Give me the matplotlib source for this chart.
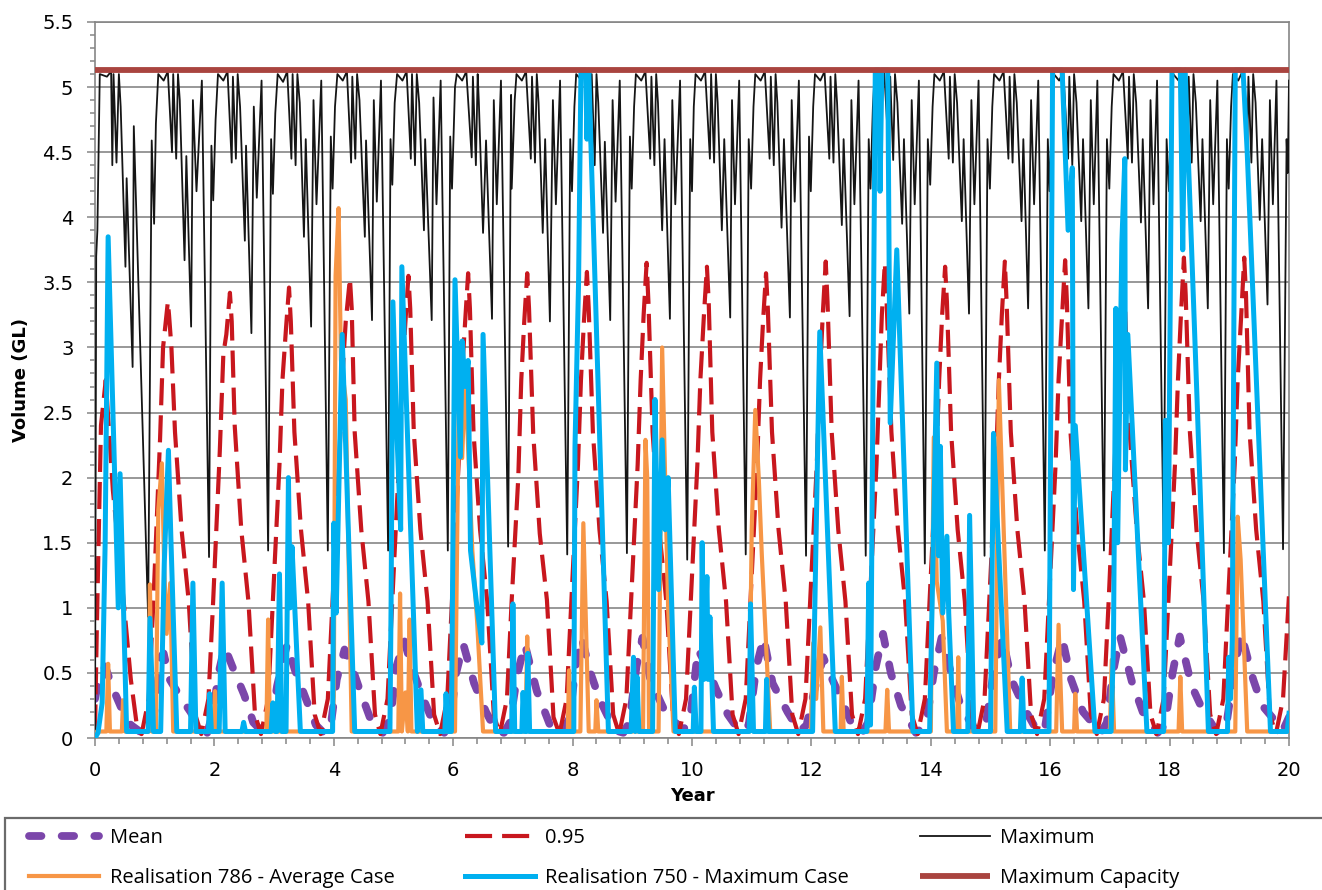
import matplotlib
matplotlib.use("Agg")
import matplotlib.pyplot as plt
from matplotlib.patches import Rectangle
from matplotlib.ticker import MultipleLocator

# ---- data (year, volume GL) ----
mean_pts = [
    (0.0, 0.3), (0.05, 0.42), (0.17, 0.55), (0.3, 0.38), (0.45, 0.22), (0.6, 0.1), (0.75, 0.05), (0.88, 0.04),
    (0.95, 0.05), (1.02, 0.3), (1.1, 0.62), (1.15, 0.65), (1.25, 0.45), (1.45, 0.3), (1.6, 0.2), (1.75, 0.08), (1.88, 0.04),
    (1.98, 0.2), (2.07, 0.5), (2.17, 0.7), (2.3, 0.55), (2.5, 0.33), (2.65, 0.12), (2.82, 0.04),
    (2.95, 0.1), (3.05, 0.4), (3.15, 0.6), (3.22, 0.72), (3.35, 0.52), (3.55, 0.28), (3.7, 0.1), (3.85, 0.03),
    (3.95, 0.1), (4.05, 0.45), (4.18, 0.68), (4.3, 0.55), (4.45, 0.35), (4.65, 0.1), (4.82, 0.04),
    (4.95, 0.15), (5.05, 0.55), (5.18, 0.75), (5.3, 0.55), (5.5, 0.3), (5.7, 0.08), (5.85, 0.04),
    (5.95, 0.12), (6.05, 0.5), (6.17, 0.72), (6.35, 0.42), (6.55, 0.2), (6.72, 0.05), (6.85, 0.04),
    (6.95, 0.12), (7.08, 0.5), (7.2, 0.72), (7.4, 0.36), (7.62, 0.1), (7.8, 0.04),
    (7.95, 0.15), (8.05, 0.55), (8.15, 0.77), (8.3, 0.5), (8.45, 0.3), (8.7, 0.06), (8.85, 0.04),
    (8.95, 0.12), (9.07, 0.55), (9.17, 0.77), (9.3, 0.45), (9.55, 0.2), (9.85, 0.06),
    (9.97, 0.15), (10.1, 0.68), (10.25, 0.55), (10.4, 0.38), (10.6, 0.18), (10.8, 0.05),
    (10.95, 0.1), (11.08, 0.55), (11.2, 0.77), (11.35, 0.42), (11.6, 0.2), (11.8, 0.05),
    (11.92, 0.1), (12.05, 0.37), (12.2, 0.62), (12.3, 0.5), (12.45, 0.35), (12.7, 0.08), (12.85, 0.04),
    (12.95, 0.12), (13.08, 0.55), (13.2, 0.8), (13.33, 0.5), (13.5, 0.25), (13.75, 0.04),
    (13.92, 0.1), (14.05, 0.5), (14.18, 0.77), (14.35, 0.48), (14.5, 0.25), (14.75, 0.05),
    (14.92, 0.1), (15.05, 0.5), (15.2, 0.77), (15.35, 0.45), (15.6, 0.2), (15.8, 0.04),
    (15.92, 0.1), (16.05, 0.5), (16.2, 0.77), (16.35, 0.45), (16.55, 0.2), (16.85, 0.04),
    (16.95, 0.12), (17.05, 0.5), (17.17, 0.78), (17.37, 0.43), (17.55, 0.2), (17.8, 0.04),
    (17.92, 0.1), (18.05, 0.5), (18.17, 0.78), (18.37, 0.4), (18.55, 0.22), (18.8, 0.04),
    (18.95, 0.1), (19.02, 0.32), (19.1, 0.57), (19.2, 0.8), (19.4, 0.45), (19.55, 0.25), (19.9, 0.06), (20.0, 0.16),
]

p95_pts = [
    (0.0, 0.05), (0.03, 0.83), (0.1, 2.4), (0.18, 2.75), (0.3, 1.9), (0.45, 1.2), (0.6, 0.45), (0.7, 0.1),
    (0.78, 0.03), (0.9, 0.3), (0.98, 1.06), (1.09, 2.3), (1.14, 3.0), (1.22, 3.35), (1.24, 3.25), (1.28, 3.0), (1.34, 2.35), (1.45, 1.6), (1.57, 1.05), (1.68, 0.18),
    (1.78, 0.03), (1.9, 0.3), (1.98, 1.06), (2.09, 2.2), (2.15, 2.95), (2.2, 3.1), (2.26, 3.42), (2.29, 3.2), (2.34, 2.4), (2.45, 1.6), (2.57, 1.05), (2.68, 0.18),
    (2.78, 0.03), (2.9, 0.3), (2.98, 1.06), (3.09, 2.1), (3.14, 2.75), (3.2, 3.15), (3.25, 3.46), (3.28, 3.2), (3.34, 2.35), (3.45, 1.6), (3.57, 1.05), (3.68, 0.18),
    (3.78, 0.03), (3.9, 0.3), (3.98, 1.06), (4.09, 2.1), (4.14, 2.75), (4.2, 3.2), (4.27, 3.53), (4.3, 3.3), (4.35, 2.35), (4.46, 1.6), (4.58, 1.05), (4.69, 0.18),
    (4.78, 0.03), (4.9, 0.3), (4.98, 1.06), (5.09, 2.1), (5.14, 2.75), (5.2, 3.2), (5.25, 3.55), (5.28, 3.3), (5.34, 2.35), (5.45, 1.6), (5.57, 1.05), (5.68, 0.18),
    (5.78, 0.03), (5.9, 0.3), (5.98, 1.06), (6.09, 2.1), (6.14, 2.75), (6.2, 3.2), (6.25, 3.57), (6.28, 3.3), (6.34, 2.35), (6.45, 1.6), (6.57, 1.05), (6.68, 0.18),
    (6.78, 0.03), (6.9, 0.3), (6.98, 1.06), (7.09, 2.0), (7.14, 2.75), (7.19, 3.2), (7.24, 3.57), (7.27, 3.3), (7.34, 2.34), (7.45, 1.57), (7.57, 1.06), (7.68, 0.16),
    (7.78, 0.03), (7.9, 0.3), (7.98, 1.06), (8.09, 2.1), (8.14, 2.75), (8.19, 3.2), (8.24, 3.58), (8.27, 3.3), (8.34, 2.35), (8.45, 1.6), (8.57, 1.05), (8.68, 0.18),
    (8.78, 0.03), (8.9, 0.3), (8.98, 1.06), (9.09, 2.1), (9.14, 2.75), (9.19, 3.25), (9.24, 3.65), (9.27, 3.35), (9.34, 2.35), (9.45, 1.6), (9.57, 1.05), (9.68, 0.18),
    (9.78, 0.03), (9.9, 0.3), (9.98, 1.06), (10.09, 2.1), (10.14, 2.75), (10.2, 3.25), (10.25, 3.62), (10.28, 3.35), (10.34, 2.35), (10.45, 1.6), (10.57, 1.05), (10.68, 0.18),
    (10.78, 0.03), (10.9, 0.3), (10.98, 1.06), (11.09, 2.1), (11.14, 2.75), (11.19, 3.2), (11.24, 3.57), (11.27, 3.3), (11.34, 2.35), (11.45, 1.6), (11.57, 1.05), (11.68, 0.18),
    (11.78, 0.03), (11.9, 0.3), (11.98, 1.06), (12.09, 2.1), (12.14, 2.75), (12.19, 3.25), (12.24, 3.66), (12.27, 3.35), (12.34, 2.35), (12.45, 1.6), (12.57, 1.05), (12.68, 0.18),
    (12.78, 0.03), (12.9, 0.3), (12.98, 1.06), (13.09, 2.1), (13.14, 2.75), (13.18, 3.25), (13.23, 3.65), (13.26, 3.35), (13.34, 2.35), (13.45, 1.6), (13.57, 1.05), (13.68, 0.18),
    (13.78, 0.03), (13.9, 0.3), (13.98, 1.06), (14.09, 2.1), (14.14, 2.75), (14.19, 3.25), (14.24, 3.62), (14.27, 3.35), (14.34, 2.35), (14.45, 1.6), (14.57, 1.05), (14.68, 0.18),
    (14.78, 0.03), (14.9, 0.3), (14.98, 1.06), (15.09, 2.1), (15.14, 2.75), (15.19, 3.25), (15.24, 3.66), (15.27, 3.35), (15.34, 2.35), (15.45, 1.6), (15.57, 1.05), (15.68, 0.18),
    (15.78, 0.03), (15.9, 0.3), (15.98, 1.06), (16.09, 2.1), (16.14, 2.75), (16.2, 3.25), (16.25, 3.67), (16.28, 3.35), (16.34, 2.35), (16.45, 1.6), (16.57, 1.05), (16.68, 0.18),
    (16.78, 0.03), (16.9, 0.3), (16.98, 1.06), (17.08, 2.1), (17.13, 2.75), (17.18, 3.25), (17.22, 3.62), (17.25, 3.35), (17.33, 2.35), (17.45, 1.6), (17.57, 1.05), (17.68, 0.18),
    (17.78, 0.03), (17.9, 0.3), (17.98, 1.06), (18.09, 2.1), (18.14, 2.75), (18.19, 3.25), (18.24, 3.69), (18.27, 3.4), (18.34, 2.35), (18.45, 1.6), (18.57, 1.05), (18.68, 0.18),
    (18.78, 0.03), (18.9, 0.3), (18.98, 1.06), (19.09, 2.1), (19.14, 2.75), (19.2, 3.25), (19.25, 3.69), (19.28, 3.4), (19.34, 2.35), (19.45, 1.6), (19.57, 1.05), (19.68, 0.18),
    (19.78, 0.03), (19.9, 0.3), (20.0, 1.1),
]

max_pts = [
    (0.0, 0.0), (0.02, 3.7), (0.04, 3.9), (0.08, 5.1), (0.2, 5.08), (0.27, 5.12), (0.29, 4.4), (0.31, 5.1), (0.36, 4.42), (0.4, 5.1),
    (0.43, 4.85), (0.51, 3.62), (0.53, 4.3), (0.63, 2.85), (0.65, 4.7), (0.89, 0.93),
    (0.95, 4.59), (0.99, 3.95), (1.02, 4.72), (1.06, 5.1), (1.15, 5.05), (1.22, 5.12), (1.29, 4.5), (1.31, 5.1), (1.36, 4.45), (1.39, 5.1), (1.42, 4.9), (1.5, 3.67), (1.53, 4.47), (1.61, 3.16), (1.64, 4.9), (1.7, 4.2), (1.79, 5.05), (1.91, 1.39),
    (1.95, 4.55), (1.98, 4.13), (2.02, 4.75), (2.06, 5.1), (2.15, 5.05), (2.22, 5.12), (2.29, 4.42), (2.31, 5.08), (2.36, 4.45), (2.39, 5.1), (2.43, 4.85), (2.51, 3.82), (2.53, 4.55), (2.62, 3.11), (2.66, 4.85), (2.71, 4.15), (2.79, 5.05), (2.9, 1.44),
    (2.95, 4.6), (2.98, 4.18), (3.02, 4.8), (3.06, 5.1), (3.15, 5.04), (3.22, 5.12), (3.29, 4.45), (3.31, 5.1), (3.36, 4.4), (3.39, 5.1), (3.43, 4.88), (3.5, 3.85), (3.53, 4.6), (3.62, 3.16), (3.66, 4.9), (3.71, 4.1), (3.79, 5.05), (3.9, 1.44),
    (3.95, 4.62), (3.98, 4.22), (4.02, 4.85), (4.06, 5.1), (4.15, 5.05), (4.22, 5.12), (4.29, 4.42), (4.31, 5.08), (4.36, 4.45), (4.39, 5.1), (4.43, 4.9), (4.52, 3.85), (4.54, 4.59), (4.64, 3.21), (4.67, 4.9), (4.72, 4.12), (4.79, 5.05), (4.91, 1.44),
    (4.95, 4.6), (4.98, 4.25), (5.02, 4.88), (5.06, 5.1), (5.15, 5.05), (5.22, 5.12), (5.29, 4.45), (5.31, 5.1), (5.36, 4.4), (5.39, 5.1), (5.43, 4.88), (5.51, 3.9), (5.53, 4.6), (5.64, 3.21), (5.67, 4.92), (5.72, 4.1), (5.79, 5.05), (5.91, 1.44),
    (5.95, 4.62), (5.98, 4.22), (6.03, 5.0), (6.06, 5.1), (6.15, 5.05), (6.22, 5.12), (6.31, 4.46), (6.33, 5.08), (6.38, 4.4), (6.41, 5.1), (6.43, 4.88), (6.5, 3.88), (6.55, 4.59), (6.65, 3.22), (6.68, 4.9), (6.73, 4.1), (6.8, 5.05), (6.92, 1.47),
    (6.97, 4.94), (6.98, 4.22), (7.03, 4.9), (7.06, 5.1), (7.15, 5.05), (7.22, 5.12), (7.3, 4.45), (7.32, 5.08), (7.37, 4.42), (7.4, 5.1), (7.43, 4.88), (7.5, 3.88), (7.54, 4.6), (7.62, 3.2), (7.67, 4.9), (7.72, 4.1), (7.79, 5.05), (7.91, 1.41),
    (7.96, 4.6), (7.99, 4.2), (8.03, 4.85), (8.06, 5.1), (8.15, 5.05), (8.22, 5.12), (8.3, 4.48), (8.32, 5.1), (8.37, 4.4), (8.4, 5.1), (8.43, 4.88), (8.51, 3.88), (8.54, 4.58), (8.63, 3.21), (8.67, 4.9), (8.72, 4.12), (8.79, 5.05), (8.91, 1.42),
    (8.96, 4.62), (8.99, 4.22), (9.03, 4.85), (9.06, 5.1), (9.15, 5.05), (9.22, 5.12), (9.3, 4.45), (9.32, 5.08), (9.37, 4.4), (9.4, 5.1), (9.43, 4.88), (9.5, 3.9), (9.54, 4.6), (9.63, 3.22), (9.67, 4.9), (9.72, 4.1), (9.8, 5.05), (9.92, 1.37),
    (9.97, 4.6), (10.0, 4.2), (10.03, 4.85), (10.06, 5.1), (10.15, 5.05), (10.22, 5.12), (10.3, 4.45), (10.32, 5.1), (10.37, 4.42), (10.4, 5.1), (10.43, 4.88), (10.5, 3.9), (10.54, 4.6), (10.64, 3.23), (10.67, 4.9), (10.72, 4.1), (10.79, 5.05), (10.9, 1.41),
    (10.95, 4.6), (10.99, 4.22), (11.03, 4.85), (11.06, 5.1), (11.15, 5.05), (11.22, 5.12), (11.3, 4.45), (11.32, 5.08), (11.37, 4.4), (11.4, 5.1), (11.43, 4.88), (11.5, 3.92), (11.54, 4.6), (11.64, 3.23), (11.67, 4.9), (11.72, 4.12), (11.79, 5.05), (11.91, 1.4),
    (11.96, 4.62), (11.99, 4.2), (12.03, 4.85), (12.06, 5.1), (12.15, 5.05), (12.22, 5.12), (12.3, 4.45), (12.32, 5.08), (12.37, 4.42), (12.4, 5.1), (12.43, 4.88), (12.51, 3.94), (12.54, 4.6), (12.64, 3.24), (12.67, 4.9), (12.72, 4.1), (12.79, 5.05), (12.91, 1.4),
    (12.96, 4.6), (12.99, 4.22), (13.03, 4.85), (13.06, 5.1), (13.15, 5.05), (13.22, 5.12), (13.3, 4.45), (13.32, 5.08), (13.37, 4.44), (13.4, 5.1), (13.44, 4.88), (13.52, 3.95), (13.55, 4.6), (13.64, 3.26), (13.68, 4.9), (13.73, 4.1), (13.8, 5.05), (13.9, 1.34),
    (13.95, 4.6), (13.99, 4.25), (14.03, 4.85), (14.06, 5.1), (14.15, 5.05), (14.22, 5.12), (14.3, 4.45), (14.32, 5.08), (14.37, 4.42), (14.4, 5.1), (14.44, 4.88), (14.52, 3.97), (14.55, 4.6), (14.64, 3.26), (14.68, 4.9), (14.73, 4.1), (14.8, 5.05), (14.9, 1.4),
    (14.95, 4.6), (14.99, 4.22), (15.03, 4.85), (15.06, 5.1), (15.15, 5.05), (15.22, 5.12), (15.3, 4.45), (15.32, 5.08), (15.37, 4.42), (15.4, 5.1), (15.44, 4.88), (15.52, 3.97), (15.55, 4.6), (15.63, 3.3), (15.68, 4.9), (15.73, 4.1), (15.8, 5.05), (15.91, 1.44),
    (15.96, 4.6), (15.99, 4.2), (16.03, 4.85), (16.06, 5.1), (16.15, 5.05), (16.22, 5.12), (16.3, 4.45), (16.32, 5.08), (16.37, 4.4), (16.4, 5.1), (16.44, 4.88), (16.52, 3.97), (16.55, 4.6), (16.64, 3.3), (16.68, 4.9), (16.73, 4.1), (16.79, 5.05), (16.9, 1.44),
    (16.95, 4.6), (16.99, 4.22), (17.03, 4.85), (17.06, 5.1), (17.15, 5.05), (17.22, 5.12), (17.3, 4.45), (17.32, 5.08), (17.37, 4.42), (17.4, 5.1), (17.44, 4.88), (17.52, 3.96), (17.55, 4.6), (17.64, 3.3), (17.68, 4.9), (17.73, 4.1), (17.79, 5.05), (17.9, 1.47),
    (17.95, 4.6), (17.99, 4.2), (18.03, 4.85), (18.06, 5.1), (18.15, 5.05), (18.22, 5.12), (18.3, 4.45), (18.32, 5.08), (18.37, 4.42), (18.4, 5.1), (18.44, 4.88), (18.52, 3.97), (18.55, 4.6), (18.64, 3.3), (18.68, 4.9), (18.73, 4.1), (18.8, 5.05), (18.91, 1.42),
    (18.96, 4.6), (18.99, 4.22), (19.03, 4.85), (19.06, 5.1), (19.15, 5.05), (19.22, 5.12), (19.3, 4.45), (19.32, 5.08), (19.37, 4.42), (19.4, 5.1), (19.44, 4.88), (19.51, 3.98), (19.55, 4.6), (19.64, 3.33), (19.68, 4.9), (19.73, 4.1), (19.79, 5.05), (19.9, 1.45),
    (19.96, 4.6), (19.98, 4.34), (20.0, 5.05),
]

r786_pts = [
    (0.0, 0.0), (0.03, 0.05), (0.19, 0.05), (0.22, 0.57), (0.25, 0.05), (0.45, 0.05), (0.47, 0.29), (0.5, 0.05),
    (0.9, 0.05), (0.92, 1.18), (0.95, 0.05), (1.02, 0.05), (1.06, 1.75), (1.12, 2.11), (1.16, 1.3), (1.2, 0.8), (1.26, 1.19), (1.31, 0.05),
    (1.98, 0.05), (2.01, 0.36), (2.04, 0.05), (2.87, 0.05), (2.9, 0.91), (2.93, 0.05),
    (3.97, 0.05), (4.0, 0.32), (4.03, 3.55), (4.08, 4.07), (4.12, 2.9), (4.2, 2.6), (4.3, 0.05),
    (5.08, 0.05), (5.11, 1.11), (5.14, 0.05), (5.2, 0.35), (5.24, 0.05), (5.27, 0.91), (5.3, 0.05),
    (6.03, 0.05), (6.1, 2.9), (6.15, 2.15), (6.2, 2.8), (6.32, 1.44), (6.4, 0.9), (6.5, 0.05),
    (7.21, 0.05), (7.24, 0.78), (7.27, 0.05), (7.92, 0.05), (7.94, 0.52), (7.97, 0.05),
    (8.13, 0.05), (8.18, 1.65), (8.27, 0.05), (8.38, 0.05), (8.4, 0.29), (8.43, 0.05),
    (9.18, 0.05), (9.22, 2.29), (9.25, 2.0), (9.28, 0.05), (9.44, 0.05), (9.5, 3.0), (9.6, 1.0), (9.69, 0.05),
    (10.96, 0.05), (11.0, 1.6), (11.06, 2.52), (11.12, 1.98), (11.17, 1.4), (11.31, 0.05),
    (11.99, 0.05), (12.03, 0.73), (12.08, 0.3), (12.15, 0.85), (12.2, 0.05), (12.49, 0.05), (12.51, 0.47), (12.54, 0.05),
    (13.24, 0.05), (13.27, 0.37), (13.3, 0.05),
    (14.0, 0.05), (14.05, 2.31), (14.1, 1.2), (14.2, 0.9), (14.27, 0.05), (14.44, 0.05), (14.46, 0.62), (14.48, 0.05),
    (15.08, 0.05), (15.14, 2.75), (15.33, 0.05),
    (16.1, 0.05), (16.14, 0.87), (16.2, 0.05), (16.4, 0.05), (16.42, 0.34), (16.45, 0.05),
    (17.0, 0.05), (17.03, 0.6), (17.07, 0.05), (18.15, 0.05), (18.18, 0.47), (18.21, 0.05),
    (19.1, 0.05), (19.14, 1.7), (19.19, 1.37), (19.3, 0.05), (20.0, 0.05),
]

r750_pts = [
    (0.0, 0.0), (0.05, 0.04), (0.12, 0.27), (0.17, 1.5), (0.22, 3.85), (0.39, 1.0), (0.42, 2.03), (0.53, 0.05),
    (0.89, 0.05), (0.92, 0.92), (0.98, 0.05), (1.1, 0.05), (1.16, 1.34), (1.23, 2.21), (1.27, 1.55), (1.37, 0.05),
    (1.6, 0.05), (1.64, 1.19), (1.69, 0.05), (1.9, 0.05), (1.92, 0.34), (1.95, 0.05), (2.08, 0.05), (2.13, 1.19), (2.18, 0.05),
    (2.46, 0.05), (2.49, 0.12), (2.52, 0.05), (2.95, 0.05), (2.98, 0.27), (3.02, 0.05), (3.05, 0.05), (3.09, 1.26), (3.13, 0.05),
    (3.2, 0.05), (3.24, 2.0), (3.27, 1.0), (3.3, 1.47), (3.44, 0.05),
    (3.98, 0.05), (4.0, 1.65), (4.04, 0.96), (4.14, 3.1), (4.35, 0.05),
    (4.94, 0.05), (4.96, 1.06), (4.99, 3.35), (5.06, 2.3), (5.12, 1.6), (5.14, 3.62), (5.4, 0.05), (5.46, 0.37), (5.49, 0.05),
    (5.86, 0.05), (5.88, 0.34), (5.91, 0.05), (5.97, 0.05), (6.03, 3.52), (6.12, 2.16), (6.15, 3.05), (6.2, 2.7), (6.25, 2.9),
    (6.29, 1.44), (6.4, 1.0), (6.48, 0.73), (6.5, 3.1), (6.71, 0.05),
    (6.98, 0.05), (7.0, 1.03), (7.03, 0.05), (7.15, 0.05), (7.17, 0.35), (7.2, 0.05), (7.23, 0.05), (7.25, 0.65), (7.28, 0.05),
    (8.02, 0.05), (8.04, 2.24), (8.1, 3.5), (8.14, 5.13), (8.22, 5.13), (8.24, 4.6), (8.27, 5.13), (8.6, 0.05),
    (8.98, 0.05), (9.02, 0.62), (9.05, 0.05), (9.08, 0.47), (9.11, 0.05), (9.34, 0.05), (9.38, 2.6), (9.44, 1.14), (9.5, 2.29),
    (9.55, 1.6), (9.6, 2.0), (9.72, 0.05),
    (10.02, 0.05), (10.04, 0.39), (10.07, 0.05), (10.15, 0.05), (10.17, 1.5), (10.2, 0.45), (10.25, 1.24), (10.27, 0.45), (10.3, 0.93), (10.36, 0.05),
    (10.96, 0.05), (10.98, 1.03), (11.03, 0.05), (11.23, 0.05), (11.25, 0.45), (11.28, 0.05),
    (12.02, 0.05), (12.14, 3.12), (12.4, 0.05), (12.93, 0.05), (12.96, 1.19), (12.99, 0.1),
    (13.07, 5.13), (13.13, 5.13), (13.15, 4.2), (13.18, 5.13), (13.28, 5.13), (13.32, 2.42), (13.43, 3.75), (13.7, 0.05),
    (13.98, 0.05), (14.1, 2.88), (14.13, 1.4), (14.16, 2.24), (14.2, 0.96), (14.27, 1.55), (14.3, 0.96), (14.38, 0.05),
    (14.62, 0.05), (14.65, 1.71), (14.72, 0.05), (15.0, 0.05), (15.05, 2.34), (15.1, 1.8), (15.28, 0.05),
    (15.5, 0.05), (15.53, 0.46), (15.56, 0.05),
    (15.98, 0.05), (16.04, 5.13), (16.2, 5.13), (16.3, 3.9), (16.37, 4.38), (16.39, 1.14), (16.42, 2.4), (16.75, 0.05),
    (17.02, 0.05), (17.06, 0.73), (17.1, 3.3), (17.13, 1.5), (17.2, 3.8), (17.25, 4.45), (17.26, 2.06), (17.3, 3.1), (17.62, 0.05),
    (17.9, 0.05), (17.93, 2.44), (17.98, 1.5), (18.04, 5.13), (18.18, 5.13), (18.22, 3.75), (18.26, 5.13), (18.46, 2.6), (18.65, 0.05),
    (18.97, 0.05), (18.99, 0.62), (19.02, 0.3), (19.05, 0.75), (19.08, 3.5), (19.1, 5.13), (19.23, 5.13), (19.3, 4.5), (19.69, 0.05),
    (19.97, 0.05), (20.0, 0.19),
]

capacity = 5.13
years_span = [0, 20]

labels = ["Mean", "0.95", "Maximum", "Realisation 786 - Average Case",
          "Realisation 750 - Maximum Case", "Maximum Capacity"]

# ---- figure ----
W, H = 1322, 890
fig = plt.figure(figsize=(W / 100, H / 100), dpi=100)
ax = fig.add_axes([95 / W, (H - 738) / H, (1289 - 95) / W, (738 - 22) / H])

grey = "#868686"


def xy(pts):
    return [p[0] for p in pts], [p[1] for p in pts]


mx, my = xy(mean_pts)
l_mean, = ax.plot(mx, my, color="#7B46AA", lw=5.6, dashes=(1.6, 2.6),
                  dash_capstyle="round", solid_capstyle="round", zorder=3)
px, py = xy(p95_pts)
l_95, = ax.plot(px, py, color="#C8171E", lw=3.0, dashes=(6.5, 2.4), zorder=4)
kx, ky = xy(max_pts)
l_max, = ax.plot(kx, ky, color="#151515", lw=1.3, zorder=5)
ox, oy = xy(r786_pts)
l_786, = ax.plot(ox, oy, color="#F79646", lw=3.0, zorder=6)
bx, by = xy(r750_pts)
l_750, = ax.plot(bx, by, color="#00B0F0", lw=3.6, zorder=7)
l_cap, = ax.plot(years_span, [capacity, capacity], color="#A9443F", lw=4.2,
                 solid_capstyle="butt", zorder=8, clip_on=False)

ax.set_xlim(0, 20)
ax.set_ylim(0, 5.5)
ax.xaxis.set_major_locator(MultipleLocator(2))
ax.xaxis.set_minor_locator(MultipleLocator(0.4))
ax.yaxis.set_major_locator(MultipleLocator(0.5))
ax.yaxis.set_minor_locator(MultipleLocator(0.1))
ax.yaxis.set_major_formatter(plt.FuncFormatter(lambda v, p: f"{v:g}"))
ax.grid(axis="y", which="major", color=grey, lw=1.2, zorder=1)
ax.set_axisbelow(True)
for s in ax.spines.values():
    s.set_color(grey)
    s.set_linewidth(1.2)
ax.tick_params(which="both", direction="out", color=grey, width=1.1,
               labelsize=14, labelcolor="black")
ax.tick_params(which="major", length=5.5)
ax.tick_params(axis="y", which="major", pad=10)
ax.tick_params(axis="x", which="major", pad=11)
ax.tick_params(axis="y", which="minor", length=3.5)
ax.tick_params(axis="x", which="minor", length=4.5)

ax.set_xlabel("Year", fontsize=13, fontweight="bold")
ax.set_ylabel("Volume (GL)", fontsize=13, fontweight="bold")
ax.xaxis.set_label_coords(0.5, -0.068)
ax.yaxis.set_label_coords(-0.0545, 0.5)

# legend box across the bottom
fig.add_artist(Rectangle((5 / W, -0.02), 1.0, (H - 818) / H + 0.02,
                         transform=fig.transFigure, fill=False,
                         edgecolor="#6b6b6b", lw=1.6))
handles = [l_mean, l_786, l_95, l_750, l_max, l_cap]
leg_labels = [labels[0], labels[3], labels[1], labels[4], labels[2], labels[5]]
fig.legend(handles, leg_labels, loc="upper left",
           bbox_to_anchor=(29 / W, (H - 828) / H), ncol=3, frameon=False,
           borderpad=0, borderaxespad=0, handlelength=3.5, handletextpad=0.5,
           columnspacing=3.5, labelspacing=1.0,
           prop={"family": "Open Sans", "size": 14.5})

fig.savefig("out.png", dpi=100)
